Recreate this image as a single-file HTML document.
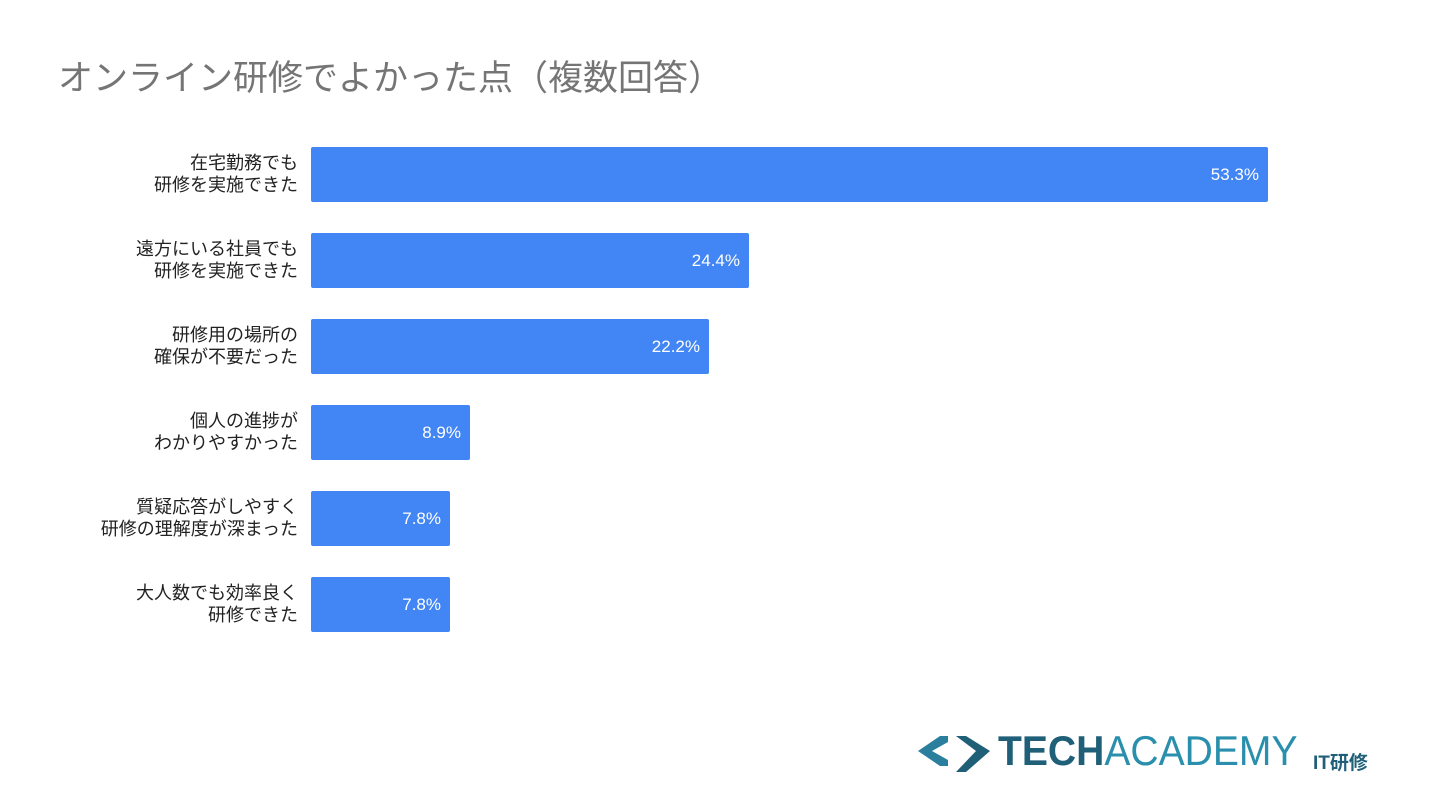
<!DOCTYPE html>
<html><head><meta charset="utf-8"><style>
body{margin:0;width:1440px;height:810px;background:#fff;position:relative;overflow:hidden;font-family:"Liberation Sans","Noto Sans CJK JP",sans-serif}
.t{position:absolute;left:58px;top:50px;font-size:35px;color:#757575;white-space:nowrap}
.b{position:absolute;left:311px;height:55px;background:#4285f4;border-radius:2px}
.v{position:absolute;right:9px;top:0;line-height:55px;color:#fff;font-size:17px}
.l{position:absolute;right:1142px;width:300px;text-align:right;font-size:18px;line-height:22px;color:#222}
</style></head><body>
<div class="t">オンライン研修でよかった点（複数回答）</div>

<div class="l" style="top:152px">在宅勤務でも<br>研修を実施できた</div>
<div class="b" style="top:147px;width:957px"><span class="v">53.3%</span></div>
<div class="l" style="top:238px">遠方にいる社員でも<br>研修を実施できた</div>
<div class="b" style="top:233px;width:438px"><span class="v">24.4%</span></div>
<div class="l" style="top:324px">研修用の場所の<br>確保が不要だった</div>
<div class="b" style="top:319px;width:398px"><span class="v">22.2%</span></div>
<div class="l" style="top:410px">個人の進捗が<br>わかりやすかった</div>
<div class="b" style="top:405px;width:159px"><span class="v">8.9%</span></div>
<div class="l" style="top:496px">質疑応答がしやすく<br>研修の理解度が深まった</div>
<div class="b" style="top:491px;width:139px"><span class="v">7.8%</span></div>
<div class="l" style="top:582px">大人数でも効率良く<br>研修できた</div>
<div class="b" style="top:577px;width:139px"><span class="v">7.8%</span></div>

<svg style="position:absolute;left:918px;top:728px" width="80" height="46">
<polygon points="0,23 22,8 30,8 30,14 14,23 30,32 30,38 22,38" fill="#2a7f9e"/>
<polygon points="38,8 48,8 72,23 48,44 38,44 58,23" fill="#1f5f78"/>
</svg>
<div style="position:absolute;left:998px;top:730px;font-size:42px;line-height:42px;font-weight:bold;color:#1f5f78;transform:scaleX(0.93);transform-origin:0 0;white-space:nowrap">TECH<span style="font-weight:normal;color:#2a8fad">ACADEMY</span></div>
<div style="position:absolute;left:1313px;top:748px;font-size:19px;font-weight:bold;color:#1f5f78;white-space:nowrap">IT研修</div>
</body></html>
